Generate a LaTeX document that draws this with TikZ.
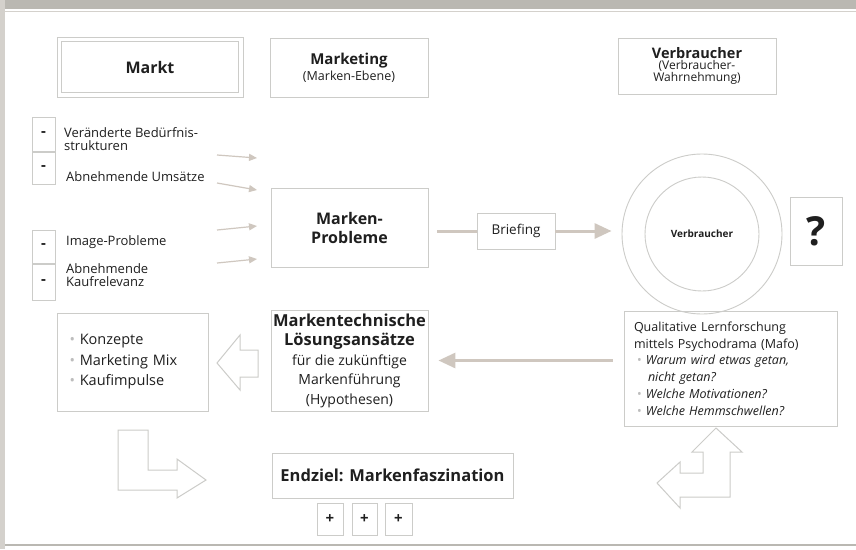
\documentclass[tikz,border=0pt]{standalone}
\usepackage{fontspec}
\setmainfont{Open Sans}
\usetikzlibrary{arrows.meta}
\definecolor{mytext}{rgb}{0.12,0.12,0.12}
\definecolor{myframe}{rgb}{0.80,0.80,0.79}
\definecolor{myarrow}{rgb}{0.81,0.78,0.75}
\definecolor{mybullet}{rgb}{0.74,0.74,0.74}
\definecolor{myband}{rgb}{0.73,0.72,0.70}
\definecolor{myedge}{rgb}{0.83,0.82,0.80}
\newcommand{\fs}[2]{\fontsize{#1}{#2}\selectfont}
\newcommand{\gb}{\textcolor{mybullet}{\textbullet}\ }

\begin{document}
\begin{tikzpicture}[x=1pt,y=-1pt,
  panel/.style={draw=myframe,line width=0.9pt,text=mytext,inner sep=0pt,align=center},
  sign/.style={panel,minimum width=23pt,font=\fs{15}{15}\bfseries},
  itemtext/.style={text=mytext,inner sep=0pt,align=left,anchor=west,font=\fs{13}{13.5}},
  thinarrow/.style={myarrow,line width=1.2pt,-{Triangle[length=8pt,width=7pt]}},
  thickarrow/.style={myarrow,line width=3pt,-{Triangle[length=17pt,width=15pt]}},
  openarrow/.style={draw=myframe,line width=1pt,line join=miter,fill=white}]
  % page with the grey band on top and the edge on the left
  \useasboundingbox (0,0) rectangle (856,549);
  \fill[white] (0,0) rectangle (856,549);
  \fill[myband] (0,0) rectangle (856,9);
  \fill[myedge] (0,0) rectangle (5,549);
  \draw[myedge,line width=1pt] (5,11) -- (856,11);
  \draw[myband,line width=1.2pt] (5,545) -- (856,545);
  % column heads
  \node[panel,minimum width=186pt,minimum height=60pt,font=\fs{16}{18}\bfseries] (markt) at (150,67) {Markt};
  \draw[myframe,line width=0.9pt] ([shift={(5pt,-5pt)}]markt.north west) rectangle ([shift={(-5pt,5pt)}]markt.south east);
  \node[panel,minimum width=158pt,minimum height=59pt,font=\fs{12.5}{13}] (mkt) at (349,67.5)
    {{\fs{15}{17}\bfseries Marketing}\\[2pt](Marken-Ebene)};
  \node[panel,minimum width=158pt,minimum height=56pt,font=\fs{12}{10.5}] (vbhead) at (697,66)
    {{\fs{14.5}{16}\bfseries Verbraucher}\\[1pt](Verbraucher-\\Wahrnehmung)};
  % market signals
  \node[sign,minimum height=34pt] (m1) at (43.5,134) {\raisebox{-2pt}{-}};
  \node[sign,minimum height=32pt] (m2) at (43.5,168) {\raisebox{-2pt}{-}};
  \node[sign,minimum height=33pt] (m3) at (43.5,246.5) {\raisebox{-2pt}{-}};
  \node[sign,minimum height=36pt] (m4) at (43.5,282) {\raisebox{-2pt}{-}};
  \node[itemtext] (t1) at (64,139) {Veränderte Bedürfnis-\\strukturen};
  \node[itemtext] (t2) at (66,177) {Abnehmende Umsätze};
  \node[itemtext] (t3) at (66,242) {Image-Probleme};
  \node[itemtext] (t4) at (66,275) {Abnehmende\\Kaufrelevanz};
  \coordinate (s1) at (217,155); \coordinate (e1) at (257,158);
  \coordinate (s2) at (217,183); \coordinate (e2) at (257,190);
  \coordinate (s3) at (217,230); \coordinate (e3) at (257,226);
  \coordinate (s4) at (217,263); \coordinate (e4) at (257,259);
  \foreach \i in {1,...,4}
    \draw[thinarrow] (s\i) -- (e\i);
  % brand problems, briefing and consumer
  \node[panel,minimum width=157pt,minimum height=79pt,font=\fs{16}{19}\bfseries] (mp) at (349.5,227.5) {Marken-\\Probleme};
  \node[panel,minimum width=78pt,minimum height=36pt,font=\fs{13.5}{15}] (brief) at (516,231) {Briefing};
  \node[draw=myframe,circle,line width=0.9pt,minimum size=160pt] (outer) at (702,234) {};
  \node[draw=myframe,circle,line width=0.9pt,minimum size=114pt,text=mytext,font=\fs{10}{12}\bfseries] (inner) at (702,234) {Verbraucher};
  \node[panel,minimum width=52pt,minimum height=68pt,font=\fs{40}{40}\bfseries] (ask) at (816,231) {?};
  \draw[myarrow,line width=3pt,shorten <=9pt] (mp.east |- brief.west) -- (brief.west);
  \draw[thickarrow,shorten >=10pt] (brief.east) -- (outer.west |- brief.east);
  % research and solutions
  \node[panel,minimum width=213pt,minimum height=115pt,align=left,text width=193pt,font=\fs{12.5}{16.8}] (quali) at (730.5,368.5)
    {Qualitative Lernforschung\\
     mittels Psychodrama (Mafo)\\
     \hspace*{3pt}\gb\textit{Warum wird etwas getan,}\\
     \hspace*{14pt}\textit{nicht getan?}\\
     \hspace*{3pt}\gb\textit{Welche Motivationen?}\\
     \hspace*{3pt}\gb\textit{Welche Hemmschwellen?}};
  \node[panel,minimum width=157pt,minimum height=101pt,font=\fs{14}{19.5}] (lsg) at (349.5,360.5)
    {{\fs{16.5}{19.5}\bfseries Markentechnische}\\{\fs{16.5}{19.5}\bfseries Lösungsansätze}\\für die zukünftige\\Markenführung\\(Hypothesen)};
  \draw[thickarrow,shorten <=11pt,shorten >=10pt] (quali.west |- lsg.east) -- (lsg.east);
  \node[panel,minimum width=151pt,minimum height=98pt,align=left,text width=126pt,font=\fs{14.5}{20.5}] (konz) at (132.5,362)
    {\gb Konzepte\\\gb Marketing Mix\\\gb Kaufimpulse};
  \draw[openarrow] (217,363) -- (240,335) -- (240,350) -- (258,350) -- (258,377) -- (240,377) -- (240,390) -- cycle;
  % final goal
  \node[panel,minimum width=241pt,minimum height=45pt,font=\fs{16.5}{18}\bfseries] (goal) at (392.5,475.5) {Endziel: Markenfaszination};
  \node[sign,minimum width=26pt,minimum height=32pt] (p1) at (330,519) {+};
  \node[sign,minimum width=25pt,minimum height=32pt] (p2) at (364.5,519) {+};
  \node[sign,minimum width=27pt,minimum height=32pt] (p3) at (398.5,519) {+};
  \draw[openarrow] (118,430) -- (148,430) -- (148,470) -- (177,470) -- (177,459) -- (206,480)
    -- (177,498) -- (177,490) -- (118,490) -- cycle;
  \draw[openarrow] (657,483) -- (680,462) -- (680,473) -- (703,473) -- (703,452) -- (692,452)
    -- (716,428) -- (742,452) -- (730,452) -- (730,497) -- (680,497) -- (680,508) -- cycle;
\end{tikzpicture}
\end{document}
